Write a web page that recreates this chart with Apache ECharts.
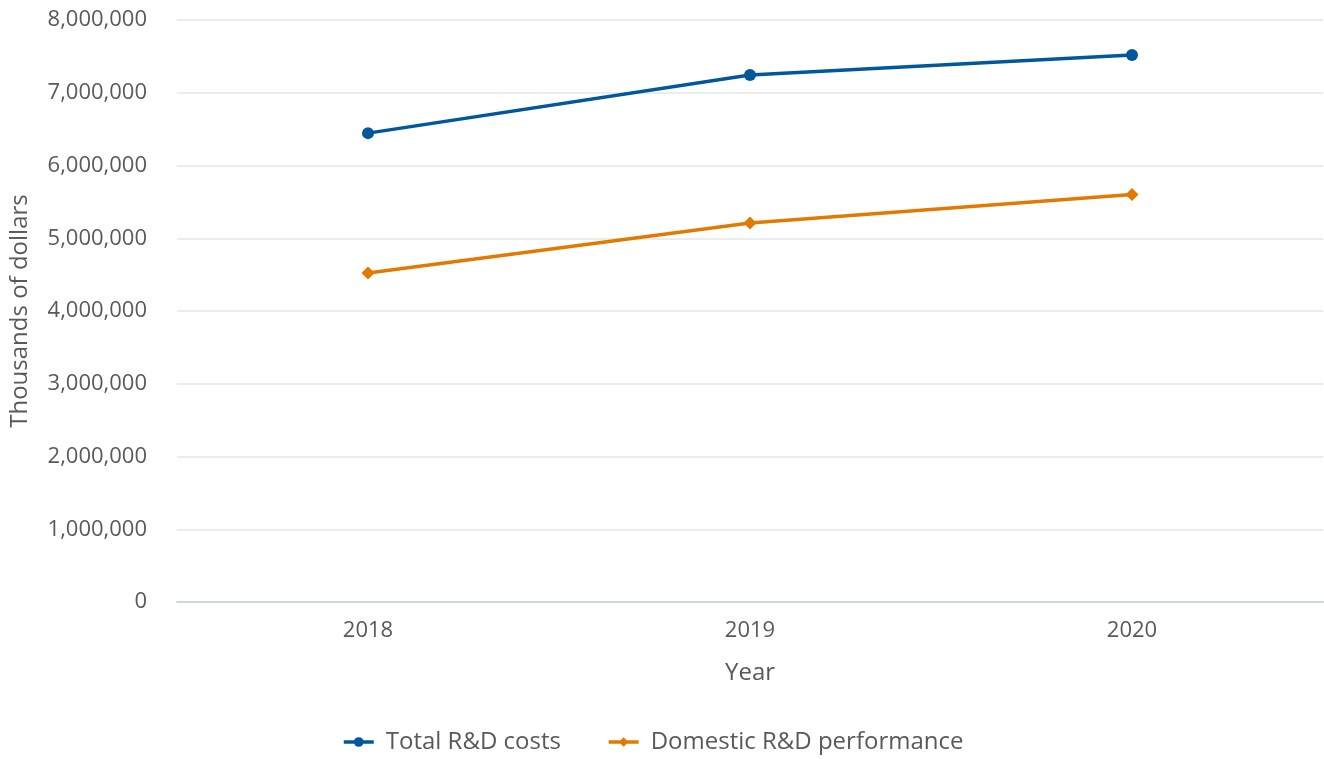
<!DOCTYPE html>
<html><head><meta charset="utf-8">
<script src="https://cdn.jsdelivr.net/npm/echarts@6/dist/echarts.min.js"></script>
<style>html,body{margin:0;padding:0;background:#fff}#c{width:1324px;height:759px}</style>
</head><body><div id="c"></div>
<script>
const years = ['2018', '2019', '2020'];
const totalRD = [6445000, 7243000, 7518000];
const domesticRD = [4523000, 5211000, 5602000];
const yTicks = { min: 0, max: 8000000, interval: 1000000 };

const font = '"Open Sans", "Noto Sans", sans-serif';
const chart = echarts.init(document.getElementById('c'), null, { renderer: 'canvas' });
chart.setOption({
  animation: false,
  textStyle: { fontFamily: font },
  grid: { left: 177, right: 1, top: 20, bottom: 157, containLabel: false },
  xAxis: {
    type: 'category', data: years, boundaryGap: true,
    name: 'Year', nameLocation: 'middle', nameGap: 59,
    nameTextStyle: { fontSize: 24, color: '#595959', fontFamily: font },
    axisLine: { lineStyle: { color: '#ccd6eb', width: 2 } },
    axisTick: { alignWithLabel: true, length: 10, lineStyle: { color: '#ccd6eb', width: 2 } },
    axisLabel: { fontSize: 22, color: '#595959', margin: 18, fontFamily: font },
    splitLine: { show: false }
  },
  yAxis: {
    type: 'value', min: yTicks.min, max: yTicks.max, interval: yTicks.interval,
    name: 'Thousands of dollars', nameLocation: 'middle', nameGap: 145,
    nameTextStyle: { fontSize: 24, color: '#595959', fontFamily: font },
    axisLine: { show: false }, axisTick: { show: false },
    axisLabel: {
      fontSize: 22, color: '#595959', margin: 30, fontFamily: font,
      formatter: v => v.toLocaleString('en-US')
    },
    splitLine: { lineStyle: { color: '#e6e6e6', width: 1.5 } }
  },
  legend: {
    bottom: 0, left: 337, itemWidth: 30, itemHeight: 12, itemGap: 46,
    lineStyle: { width: 3.5 },
    textStyle: { fontSize: 24, color: '#595959', fontFamily: font, padding: [0, 0, 0, 7] },
    data: ['Total R&D costs', 'Domestic R&D performance']
  },
  series: [
    {
      name: 'Total R&D costs', type: 'line', data: totalRD,
      symbol: 'circle', symbolSize: 12,
      lineStyle: { width: 3.5, color: '#00589c' },
      itemStyle: { color: '#00589c' }
    },
    {
      name: 'Domestic R&D performance', type: 'line', data: domesticRD,
      symbol: 'diamond', symbolSize: 13,
      lineStyle: { width: 3.5, color: '#e07a00' },
      itemStyle: { color: '#e07a00' }
    }
  ]
});
</script></body></html>
